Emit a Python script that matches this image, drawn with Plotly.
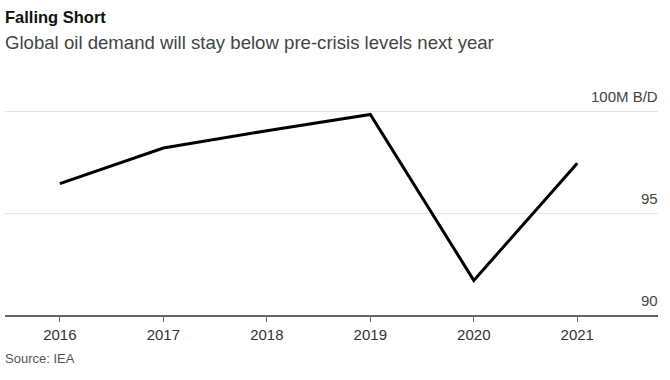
import plotly.graph_objects as go

years = [2016, 2017, 2018, 2019, 2020, 2021]
demand = [96.45, 98.2, 99.05, 99.85, 91.7, 97.45]
y_tickvals = [90, 95, 100]
y_ticktext = ["90", "95", "100M B/D"]

FONT = "Liberation Sans, Arial, sans-serif"

fig = go.Figure()
fig.add_trace(go.Scatter(
    x=years, y=demand, mode="lines",
    line=dict(color="#000000", width=3),
    hoverinfo="skip", showlegend=False,
))

annotations = [
    dict(text="<b>Falling Short</b>", xref="paper", yref="paper",
         x=0, xshift=-2, y=1, yshift=74, xanchor="left", yanchor="middle",
         showarrow=False, font=dict(size=16.5, color="#111111", family=FONT)),
    dict(text="Global oil demand will stay below pre-crisis levels next year",
         xref="paper", yref="paper", x=0, xshift=-2, y=1, yshift=49,
         xanchor="left", yanchor="middle", showarrow=False,
         font=dict(size=18.6, color="#444444", family=FONT)),
    dict(text="Source: IEA", xref="paper", yref="paper", x=0, xshift=-2, y=0,
         yshift=-43, xanchor="left", yanchor="middle", showarrow=False,
         font=dict(size=13, color="#555555", family=FONT)),
]
for v, t in zip(y_tickvals, y_ticktext):
    annotations.append(dict(
        text=t, xref="paper", yref="y", x=1, xshift=2, y=v, yshift=15,
        xanchor="right", yanchor="middle", showarrow=False,
        font=dict(size=15, color="#444444", family=FONT),
    ))

fig.update_layout(
    width=670, height=380,
    margin=dict(l=5, r=12, t=91, b=65, autoexpand=False),
    paper_bgcolor="white", plot_bgcolor="white",
    font=dict(family=FONT, color="#333333"),
    xaxis=dict(
        range=[2015.47, 2021.78], automargin=False,
        tickvals=years, ticktext=[str(y) for y in years],
        showgrid=False, zeroline=False,
        showline=True, linecolor="#666666", linewidth=1.5,
        ticks="outside", ticklen=5, tickcolor="#666666", tickwidth=1,
        tickfont=dict(size=15, color="#333333"),
    ),
    yaxis=dict(
        range=[90, 101], side="right", automargin=False,
        tickvals=y_tickvals, showticklabels=False,
        showgrid=True, gridcolor="#e3e3e3", gridwidth=1,
        zeroline=False, ticks="",
    ),
    annotations=annotations,
)

fig.write_html(
    "out.html",
    config={"displayModeBar": False, "staticPlot": True},
    post_script="document.body.style.margin='0';document.body.style.padding='0';",
)
